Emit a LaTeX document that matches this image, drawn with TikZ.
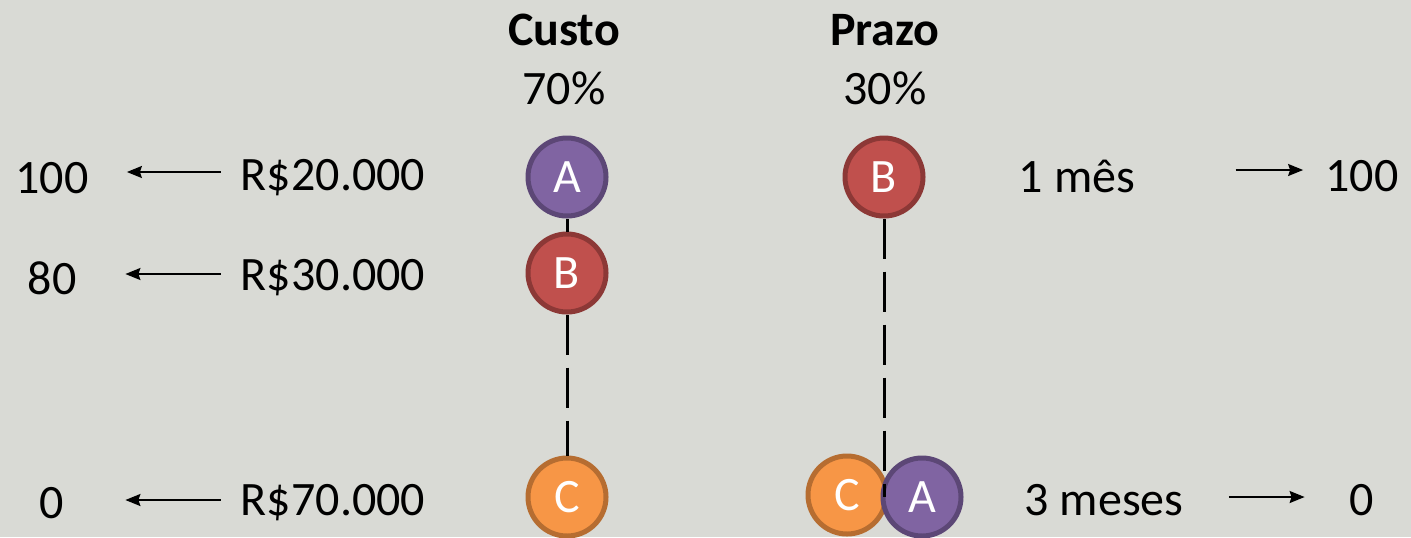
\documentclass[tikz,border=0pt]{standalone}
\usepackage{fontspec}
\setmainfont{Carlito}
\usetikzlibrary{arrows.meta}

\definecolor{bgcol}{RGB}{217,218,213}
\definecolor{purplefill}{RGB}{128,100,162}
\definecolor{purpleline}{RGB}{92,71,118}
\definecolor{redfill}{RGB}{192,80,77}
\definecolor{redline}{RGB}{140,56,54}
\definecolor{orangefill}{RGB}{247,150,70}
\definecolor{orangeline}{RGB}{182,109,49}

\begin{document}
\begin{tikzpicture}[x=0.5pt, y=-0.5pt,
  lbl/.style={font=\fontsize{24}{28}\selectfont, inner sep=0pt},
  head/.style={font=\bfseries\fontsize{24}{28}\selectfont, inner sep=0pt},
  score/.style={lbl, minimum width=35pt},
  opt/.style={circle, inner sep=0pt, minimum size=39pt, line width=2.5pt,
    text=white, font=\fontsize{24}{28}\selectfont},
  optA/.style={opt, fill=purplefill, draw=purpleline},
  optB/.style={opt, fill=redfill, draw=redline},
  optC/.style={opt, fill=orangefill, draw=orangeline},
  arr/.style={-{Stealth[length=7.5pt, width=6pt, inset=1pt]}, line width=0.9pt},
  link/.style={line width=1.5pt},
  dashlink/.style={link, dash pattern=on 20pt off 6.5pt}]

%% Background and margins
\fill[bgcol] (0,0) rectangle (1411,537);
\useasboundingbox (0,0) rectangle (1411,537);

%% Criteria
\node[head] (custo) at (564,30) {Custo};
\node[lbl] (pcusto) at (564,88) {70\%};
\node[head] (prazo) at (885,30) {Prazo};
\node[lbl] (pprazo) at (885,88) {30\%};

%% Custo scale
\node[score] (s100) at (52,178) {100};
\node[lbl] (r20) at (333,178) {R\$20.000};
\node[score] (s80) at (52,278) {80};
\node[lbl] (r30) at (333,278) {R\$30.000};
\node[score] (s0) at (52,503) {0};
\node[lbl] (r70) at (333,503) {R\$70.000};

\draw[arr, shorten <=10pt, shorten >=19pt] ([yshift=3pt]r20.west) -- ([yshift=3pt]s100.east);
\draw[arr, shorten <=10pt, shorten >=19pt] ([yshift=2pt]r30.west) -- ([yshift=2pt]s80.east);
\draw[arr, shorten <=10pt, shorten >=19pt] ([yshift=1.5pt]r70.west) -- ([yshift=1.5pt]s0.east);

%% Custo options
\node[optA] (ca) at (567,177) {A};
\node[optB] (cb) at (567,273) {B};
\node[optC] (cc) at (567,497) {C};
\draw[link] (ca.south) -- (cb.north);
\draw[dashlink] (cb.south) -- (cc.north);

%% Prazo scale
\node[lbl] (m1) at (1077,176) {1 mês};
\node[score] (t100) at (1362,176) {100};
\node[lbl] (m3) at (1104,500) {3 meses};
\node[score] (t0) at (1362,500) {0};

\draw[arr, shorten <=50pt, shorten >=11pt] ([yshift=3pt]m1.east) -- ([yshift=3pt]t100.west);
\draw[arr, shorten <=22.5pt, shorten >=11pt] ([yshift=1.5pt]m3.east) -- ([yshift=1.5pt]t0.west);

%% Prazo options
\node[optB] (pb) at (884,177) {B};
\node[optC] (pc) at (847,495) {C};
\node[optA] (pa) at (922,497) {A};
\coordinate (pend) at (884,497);
\draw[dashlink] (pb.south) -- (pend);

\end{tikzpicture}
\end{document}
